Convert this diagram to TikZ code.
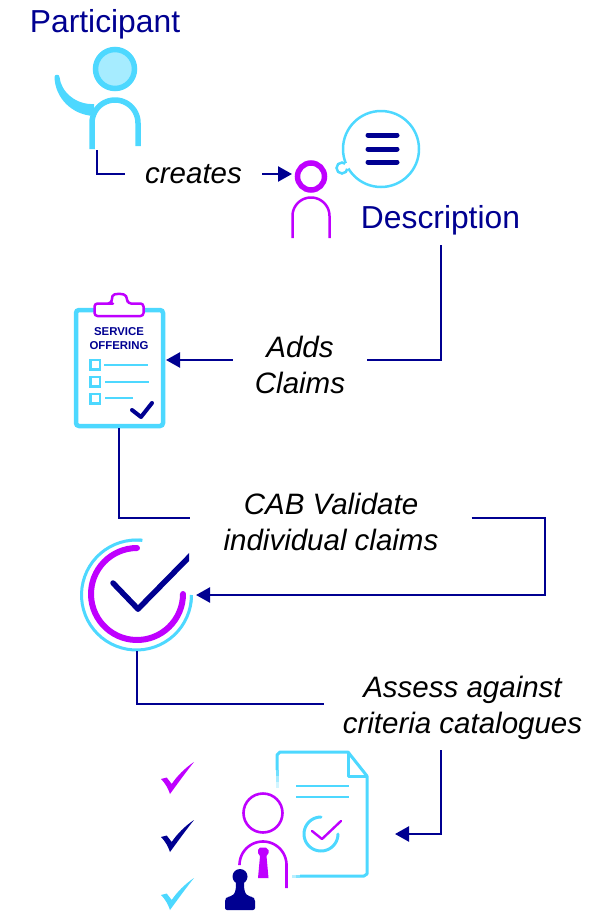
\documentclass[tikz,border=0pt]{standalone}
\usepackage{fontspec}
\setmainfont{Liberation Sans}
\usetikzlibrary{arrows.meta}
\definecolor{navyc}{HTML}{000091}
\definecolor{cyanc}{HTML}{4DD8FF}
\definecolor{cyanl}{HTML}{A6ECFF}
\definecolor{purpc}{HTML}{BF00FF}
\tikzset{
  arcm/.style n args={5}{insert path={plot[domain=#4:#5,samples=48] ({#1+#3*cos(\x)},{#2-#3*sin(\x)})}},
  arcl/.style n args={5}{insert path={-- plot[domain=#4:#5,samples=48] ({#1+#3*cos(\x)},{#2-#3*sin(\x)})}},
  conn/.style={draw=navyc,line width=2.4pt},
  arrowconn/.style={conn,-{Triangle[length=14pt,width=15pt]}},
  head/.style={text=navyc,font=\fontsize{31.8}{36}\selectfont,inner sep=0pt},
  lab/.style={text=black,font=\fontsize{29.5}{36}\selectfont\itshape,align=center,inner ysep=0pt},
  purpln/.style={draw=purpc,line cap=round,line join=round},
  navyln/.style={draw=navyc,line cap=round,line join=round},
  swoosh/.pic={\fill[pic actions] (0,17) -- (5.7,15.5) -- (10.7,22) .. controls (16,14) and (24,6) .. (33,0) .. controls (25,10) and (17,21) .. (9,32) .. controls (7,26) and (4,21) .. (0,17) -- cycle;}
}
\begin{document}
\begin{tikzpicture}[x=1pt,y=-1pt]
\useasboundingbox (0,0) rectangle (610,911);
% Participant
\node[head] (participant) at (105,24) {Participant};
\draw[cyanc,fill=cyanl,line width=5.5pt] (115,69) circle[radius=19.5pt];
\fill[cyanc] (54.5,77) .. controls (54.5,74) and (59.5,74) .. (59.5,77) .. controls (61,92) and (76,105) .. (94,104) -- (94,116) .. controls (72,115) and (55,98) .. (54.5,77) -- cycle;
\draw[cyanc,line width=5.5pt] (92,149) -- (92,123) [arcl={115}{123}{23}{180}{0}] -- (138,146);
\coordinate (pfoot) at (97,150);
% Description person
\draw[purpc,line width=5.5pt] (311,176.5) circle[radius=13.5pt];
\draw[purpc,line width=2.5pt] (292.5,238) -- (292.5,216) [arcl={311}{216}{18.5}{180}{0}] -- (329.5,238);
\coordinate (dperson) at (292,174);
% Bubble
\draw[cyanc,line width=2.5pt,fill=white] (342,168) circle[radius=5.5pt];
\draw[cyanc,line width=2.5pt,fill=white] (381,149) circle[radius=38pt];
\fill[white] (347.3,165.8) circle[radius=3pt];
\foreach \yy in {135,149,162}{\draw[navyc,line width=5pt,line cap=round] (368,\yy) -- (397,\yy);}
\node[head] (description) at (440.5,220) {Description};
\coordinate (descS) at (441,245);
% Clipboard
\draw[cyanc,line width=4.5pt,rounded corners=3pt] (76,310) rectangle (163,426);
\draw[purpln,line width=2.5pt,fill=white,rounded corners=3pt] (94.5,316) -- (94.5,303.5) -- (110,303.5) -- (111,303.5) -- (112,299) .. controls (113,293) and (125,293) .. (127,299) -- (128,303.5) -- (143.5,303.5) -- (143.5,316) -- cycle;
\node[text=navyc,font=\fontsize{11.4}{14}\selectfont\bfseries,align=center,inner sep=0pt] (clipt) at (119,339) {SERVICE\\OFFERING};
\foreach \yy in {360,377,394}{\draw[cyanc,line width=2.4pt] (90.5,\yy) rectangle +(9.5,9.5);}
\draw[cyanc,line width=2pt] (104,365) -- (148,365) (105,382) -- (149,382) (105,398) -- (133,398);
\draw[navyln,line width=4pt] (132,410) -- (141,417) -- (152,403);
\coordinate (clipE) at (166,360);
\coordinate (clipS) at (119,428);
% Big check
\foreach \a/\o in {100/.15,96/.3,92/.45,88/.6,84/.8}{\draw[cyanc,opacity=\o,line width=3pt] [arcm={136.5}{595}{55}{\a}{\a+4}];}
\draw[cyanc,line width=3pt] [arcm={136.5}{595}{55}{84}{360}];
\foreach \a/\o in {-4/.8,-8/.55,-12/.3,-16/.12}{\draw[cyanc,opacity=\o,line width=3pt] [arcm={136.5}{595}{55}{\a}{\a+4}];}
\draw[purpc,line width=6pt,line cap=round] [arcm={137}{594}{46}{90}{360}];
\draw[navyln,line width=5.5pt] (113,583) -- (138,609);
\begin{scope}
\clip (100,550) rectangle (189,620);
\draw[navyln,line width=5.5pt] (138,609) -- (195,551);
\end{scope}
\coordinate (checkE) at (196,595);
\coordinate (checkS) at (137,651);
% Bottom
\pic[purpc] at (161,762) {swoosh};
\pic[navyc] at (161,820) {swoosh};
\pic[cyanc] at (161,878) {swoosh};
% Document
\draw[cyanc,line width=3pt,line join=round] (277,770) -- (277,755) -- (280,752) -- (348,752) -- (367,776) -- (367,874) -- (364,876) -- (300,876);
\foreach \a/\b/\o in {770/776/.8,776/782/.5,782/788/.25}{\draw[cyanc,opacity=\o,line width=3pt] (277,\a) -- (277,\b);}
\foreach \a/\b/\o in {300/296/.7,296/292/.4}{\draw[cyanc,opacity=\o,line width=3pt] (\a,876) -- (\b,876);}
\draw[cyanc,line width=3pt,line join=round] (348,752) -- (348,776) -- (367,776);
\draw[cyanc,line width=2.4pt] (296,786) -- (349,786) (296,797) -- (349,797);
\draw[cyanc,line width=3pt,line cap=round] [arcm={321}{834}{17}{90}{360}];
\draw[purpln,line width=2.4pt] (312,831) -- (322,839) -- (341,821);
% Evaluator
\draw[purpc,line width=2.6pt] (263,813) circle[radius=19.5pt];
\draw[purpc,line width=2.6pt] (239.5,864) [arcl={263}{865}{23.5}{180}{0}] -- (286.5,888);
\fill[purpc] (260,847.5) -- (266,847.5) -- (268.5,850) -- (268.5,853) -- (266.5,856) -- (268.5,878) -- (258,878) -- (260,856) -- (258,853) -- (258,850) -- cycle;
% Stamp
\fill[navyc] (240,876.5) circle[radius=7.5pt];
\fill[navyc,rounded corners=2pt] (236,880) .. controls (236,887) and (236,892) .. (232,896) -- (227,897) -- (225,899) -- (225,910) -- (255,910) -- (255,899) -- (253,897) -- (248,896) .. controls (244,892) and (244,887) .. (244,880) -- cycle;
\coordinate (personE) at (395,834);
% Labels
\node[lab,inner xsep=20pt] (creates) at (193.5,174) {creates};
\node[lab,inner xsep=22pt] (adds) at (300,365) {Adds\\Claims};
\node[lab,inner xsep=33pt] (cab) at (331,522) {CAB Validate\\individual claims};
\node[lab,inner xsep=19pt] (assess) at (462.5,708) {Assess against\\criteria catalogues};
\coordinate (assessS) at (441,750);
\coordinate (cabR) at (545,518);
\coordinate (assessY) at (325,704);
% Connectors
\draw[conn] (pfoot) |- (creates.west);
\draw[arrowconn] (creates.east) -- (dperson);
\draw[conn] (descS) |- (adds.east |- clipE);
\draw[arrowconn] (adds.west |- clipE) -- (clipE);
\draw[conn] (clipS) |- (cab.west |- cabR);
\draw[arrowconn] (cab.east |- cabR) -- (cabR) |- (checkE);
\draw[conn] (checkS) |- (assess.west |- assessY);
\draw[arrowconn] (assessS) |- (personE);
\end{tikzpicture}
\end{document}
